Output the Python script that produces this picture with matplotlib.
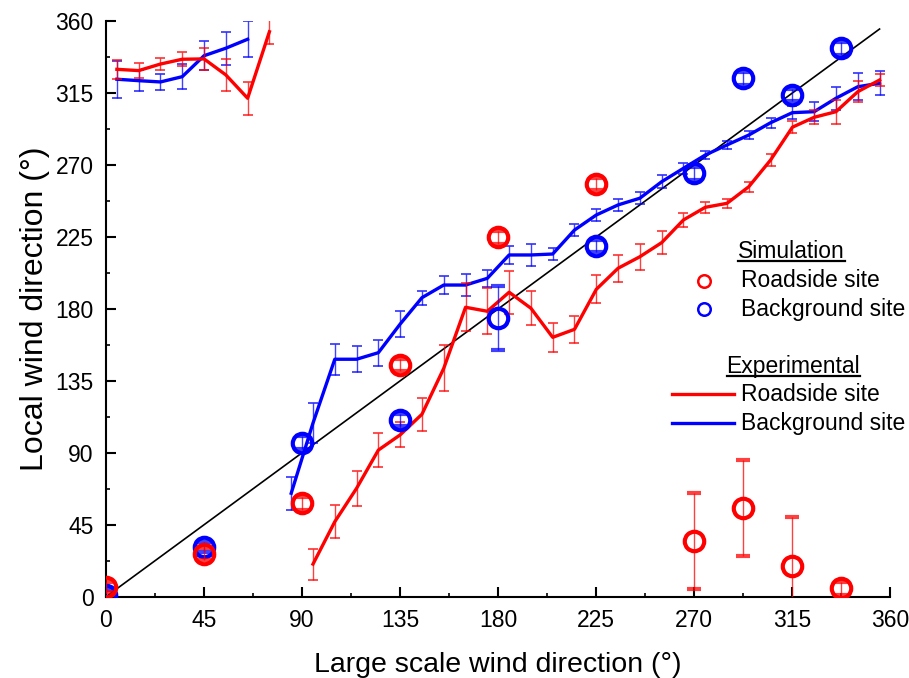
import numpy as np
import matplotlib
matplotlib.use('Agg')
import matplotlib.pyplot as plt
from matplotlib.lines import Line2D

plt.rcParams['font.family'] = ['Liberation Sans', 'DejaVu Sans']

# experimental, 10 degree bins (nan = wrapped / no data)
x_exp = [5, 15, 25, 35, 45, 55, 65, 75, 85, 95, 105, 115, 125, 135, 145, 155, 165, 175,
         185, 195, 205, 215, 225, 235, 245, 255, 265, 275, 285, 295, 305, 315, 325, 335, 345, 355]
red_exp = [329.8, 329.0, 333.1, 336.1, 336.3, 326.3, 311.7, 353.3, np.nan, 20.4, 46.9, 67.8,
           91.7, 101.2, 114.1, 142.8, 181.0, 178.5, 190.4, 180.4, 162.2, 167.2, 192.2, 205.4,
           212.6, 221.4, 235.6, 243.5, 246.0, 256.4, 273.1, 293.6, 299.8, 303.3, 315.8, 323.1]
red_err = [6, 4.7, 3.6, 4.4, 7, 10, 10.4, 7.8, np.nan, 9.7, 10.4, 11, 10.4, 7.8, 10.2, 14.3,
           15, 14.3, 13.5, 10.6, 9, 8.3, 8.7, 8.3, 8.1, 7.3, 4.6, 3.6, 2.9, 3.1, 3.6, 3.6,
           4.5, 7.5, 6.6, 3.6]
blue_exp = [323.6, 322.7, 321.9, 325.2, 338.3, 343.0, 348.6, np.nan, 64.7, 108.6, 148.5, 148.5,
            152.6, 170.5, 187.0, 194.9, 194.9, 199.1, 213.7, 213.7, 214.3, 229.3, 238.7, 245.0,
            249.2, 259.5, 267.9, 276.2, 282.5, 288.7, 296.4, 302.7, 303.3, 311.7, 318.9, 321.1]
blue_err = [11.5, 6.5, 4.9, 7.8, 9.2, 10.4, 11.2, np.nan, 10.4, 12.5, 9.6, 8, 8.1, 8.1, 4.4,
            5.4, 7, 5.2, 5.6, 6.6, 4, 3.6, 3.6, 3.5, 3.9, 3.9, 3.4, 2.3, 2.4, 2.4, 3.1, 4,
            6.1, 7.1, 8.5, 7.5]

# simulation
x_sim = [0, 45, 90, 135, 180, 225, 270, 292.5, 315, 337.5]
red_sim = [5.9, 26.7, 58.4, 144.9, 224.8, 258.1, 35.0, 55.3, 19.0, 5.3]
red_sim_err = [3, 3.5, 4, 4, 4, 4, 30, 30, 31, 4]
blue_sim = [1.0, 30.9, 96.3, 110.5, 174.1, 219.3, 264.8, 324.2, 313.8, 343.0]
blue_sim_err = [3, 3, 4, 4, 20, 4, 4, 4, 4, 4]

diag = [0, 355]
ticks = [0, 45, 90, 135, 180, 225, 270, 315, 360]

fig = plt.figure(figsize=(9.09, 6.78), dpi=100)
ax = fig.add_axes([0.1166, 0.1199, 0.863, 0.8491])

ax.plot(diag, diag, color='black', lw=1.2, zorder=1)

ax.errorbar(x_exp, blue_exp, yerr=blue_err, color='#0000ff', lw=2.4, elinewidth=1,
            capsize=3.8, capthick=1.3, ecolor=(0, 0, 1, 0.75), zorder=2)
ax.errorbar(x_exp, red_exp, yerr=red_err, color='#ff0000', lw=2.4, elinewidth=1,
            capsize=3.8, capthick=1.3, ecolor=(1, 0, 0, 0.75), zorder=3)

ax.errorbar(x_sim, blue_sim, yerr=blue_sim_err, fmt='o', ms=14, mfc='none', mec='#0000ff',
            mew=3, ecolor=(0, 0, 1, 0.75), elinewidth=1, capsize=5, capthick=1.2, zorder=4)
ax.errorbar(x_sim, red_sim, yerr=red_sim_err, fmt='o', ms=14, mfc='none', mec='#ff0000',
            mew=3, ecolor=(1, 0, 0, 0.75), elinewidth=1, capsize=5, capthick=1.2, zorder=5)

ax.set_xlim(0, 360)
ax.set_ylim(0, 360)
ax.set_xticks(ticks)
ax.set_yticks(ticks)
ax.set_xticks(np.arange(22.5, 360, 45), minor=True)
ax.set_yticks(np.arange(22.5, 360, 45), minor=True)
ax.tick_params(which='major', direction='in', length=7.5, width=1.5, labelsize=16.5)
ax.tick_params(which='minor', direction='in', length=3, width=1.2)
ax.tick_params(axis='x', pad=9)
ax.tick_params(axis='y', pad=9)
ax.spines['top'].set_visible(False)
ax.spines['right'].set_visible(False)
ax.spines['left'].set_linewidth(1.5)
ax.spines['bottom'].set_linewidth(1.5)

ax.set_xlabel('Large scale wind direction (°)', fontsize=20.5, labelpad=14)
ax.set_ylabel('Local wind direction (°)', fontsize=23, labelpad=4)

# hand-made legend
fs = 16.5
t1 = ax.text(0.806, 0.599, 'Simulation', transform=ax.transAxes, fontsize=fs, va='center')
ax.plot([0.762], [0.549], 'o', ms=9, mfc='none', mec='#ff0000', mew=1.8,
        transform=ax.transAxes, clip_on=False)
ax.text(0.810, 0.549, 'Roadside site', transform=ax.transAxes, fontsize=fs, va='center')
ax.plot([0.762], [0.4997], 'o', ms=9, mfc='none', mec='#0000ff', mew=1.8,
        transform=ax.transAxes, clip_on=False)
ax.text(0.810, 0.4997, 'Background site', transform=ax.transAxes, fontsize=fs, va='center')

t2 = ax.text(0.791, 0.3995, 'Experimental', transform=ax.transAxes, fontsize=fs, va='center')
ax.plot([0.722, 0.801], [0.3516, 0.3516], color='#ff0000', lw=2.4,
        transform=ax.transAxes, clip_on=False)
ax.text(0.810, 0.3516, 'Roadside site', transform=ax.transAxes, fontsize=fs, va='center')
ax.plot([0.722, 0.801], [0.3017, 0.3017], color='#0000ff', lw=2.4,
        transform=ax.transAxes, clip_on=False)
ax.text(0.810, 0.3017, 'Background site', transform=ax.transAxes, fontsize=fs, va='center')

fig.canvas.draw()
r = fig.canvas.get_renderer()
for t in (t1, t2):
    bb = t.get_window_extent(r)
    inv = fig.transFigure.inverted()
    (x0, y0), (x1, _) = inv.transform([(bb.x0, bb.y0 + 2), (bb.x1, bb.y0)])
    fig.add_artist(Line2D([x0, x1], [y0, y0], color='black', lw=1.6, transform=fig.transFigure))

fig.savefig('out.png', dpi=100)
